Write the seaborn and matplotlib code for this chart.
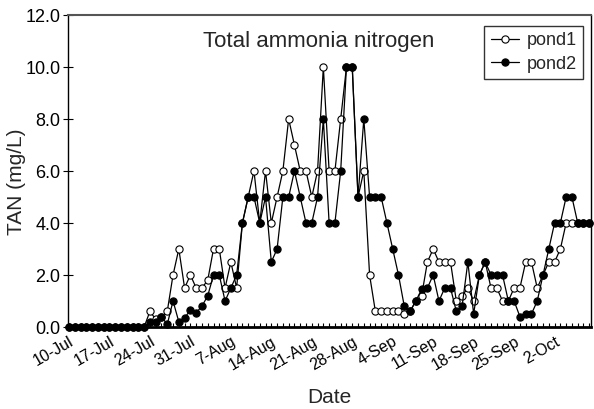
import numpy as np
import pandas as pd
import matplotlib
matplotlib.use("Agg")
import matplotlib.pyplot as plt
import seaborn as sns
from matplotlib.ticker import MultipleLocator, FixedLocator

# ---- data (one value per day starting 10-Jul) ----
pond1 = [0, 0, 0, 0, 0, 0, 0, 0, 0, 0, 0, 0, 0, 0,
         0.6, 0.3, 0.4, 0.6, 2.0, 3.0, 1.5, 2.0, 1.5, 1.5,
         1.8, 3.0, 3.0, 1.5, 2.5, 1.5, 4.0, 5.0, 6.0, 4.0,
         6.0, 4.0, 5.0, 6.0, 8.0, 7.0, 6.0, 6.0, 5.0, 6.0,
         10.0, 6.0, 6.0, 8.0, 10.0, 10.0, 5.0, 6.0, 2.0, 0.6,
         0.6, 0.6, 0.6, 0.6, 0.5, 0.6, 1.0, 1.2, 2.5, 3.0,
         2.5, 2.5, 2.5, 1.0, 1.2, 1.5, 1.0, 2.0, 2.5, 1.5,
         1.5, 1.0, 1.0, 1.5, 1.5, 2.5, 2.5, 1.5, 2.0, 2.5,
         2.5, 3.0, 4.0, 4.0, 4.0, 4.0, 4.0]
pond2 = [0, 0, 0, 0, 0, 0, 0, 0, 0, 0, 0, 0, 0, 0,
         0.2, 0.2, 0.4, 0.1, 1.0, 0.2, 0.35, 0.65, 0.55, 0.8,
         1.2, 2.0, 2.0, 1.0, 1.5, 2.0, 4.0, 5.0, 5.0, 4.0,
         5.0, 2.5, 3.0, 5.0, 5.0, 6.0, 5.0, 4.0, 4.0, 5.0,
         8.0, 4.0, 4.0, 6.0, 10.0, 10.0, 5.0, 8.0, 5.0, 5.0,
         5.0, 4.0, 3.0, 2.0, 0.8, 0.6, 1.0, 1.45, 1.5, 2.0,
         1.0, 1.5, 1.5, 0.6, 0.8, 2.5, 0.5, 2.0, 2.5, 2.0,
         2.0, 2.0, 1.0, 1.0, 0.4, 0.5, 0.5, 1.0, 2.0, 3.0,
         4.0, 4.0, 5.0, 5.0, 4.0, 4.0, 4.0]
tick_days = [0, 7, 14, 21, 28, 35, 42, 49, 56, 63, 70, 77, 84]
tick_labels = ["10-Jul", "17-Jul", "24-Jul", "31-Jul", "7-Aug", "14-Aug",
               "21-Aug", "28-Aug", "4-Sep", "11-Sep", "18-Sep", "25-Sep", "2-Oct"]
series_names = ["pond1", "pond2"]

days = np.arange(len(pond1))
df = pd.DataFrame({"day": days, "pond1": pond1, "pond2": pond2})

sns.set_theme(style="white")
plt.rcParams["font.family"] = ["Liberation Sans", "DejaVu Sans"]

fig = plt.figure(figsize=(5.94, 4.09), dpi=100)
ax = fig.add_axes([68 / 594, 1 - 327 / 409, (591 - 68) / 594, (327 - 15) / 409])

common = dict(color="black", linewidth=0.9, marker="o", markersize=5.2,
              markeredgecolor="black", markeredgewidth=0.8, clip_on=False)
sns.lineplot(data=df, x="day", y="pond1", ax=ax, markerfacecolor="white",
             label=series_names[0], zorder=3, **common)
sns.lineplot(data=df, x="day", y="pond2", ax=ax, markerfacecolor="black",
             label=series_names[1], zorder=4, **common)

ax.set_xlim(-0.17, 90.3)
ax.set_ylim(0, 12)
ax.yaxis.set_major_locator(MultipleLocator(2))
ax.yaxis.set_major_formatter(matplotlib.ticker.FormatStrFormatter("%.1f"))
ax.xaxis.set_major_locator(FixedLocator(tick_days))
ax.set_xticklabels(tick_labels, rotation=30, ha="right", rotation_mode="anchor")
ax.xaxis.set_minor_locator(MultipleLocator(1))
ax.tick_params(axis="x", which="both", direction="in", length=3, width=0.8,
               labelsize=11.5, pad=5, colors="black", bottom=True)
ax.tick_params(axis="y", which="major", direction="inout", length=7, width=0.8,
               labelsize=13, left=True, colors="black", pad=2)

for side in ["left", "right", "top"]:
    ax.spines[side].set_color("black")
    ax.spines[side].set_linewidth(1.0)
ax.spines["top"].set_color("#555555")
ax.spines["top"].set_linewidth(1.5)
ax.spines["bottom"].set_color("black")
ax.spines["bottom"].set_linewidth(2.0)

ax.set_xlabel("Date", fontsize=15, labelpad=11)
ax.set_ylabel("")
fig.text(17 / 594, 1 - 182 / 409, "TAN (mg/L)", rotation=90, ha="center",
         va="center", fontsize=15)
ax.text(0.48, 0.95, "Total ammonia nitrogen", transform=ax.transAxes,
        ha="center", va="top", fontsize=16)

leg = ax.legend(loc="upper right", bbox_to_anchor=(0.985, 0.965), frameon=True,
                fancybox=False, edgecolor="black", fontsize=13, handlelength=1.6,
                handletextpad=0.4, borderpad=0.35, labelspacing=0.35,
                borderaxespad=0)
leg.get_frame().set_linewidth(1.0)

fig.savefig("out.png", dpi=100)
